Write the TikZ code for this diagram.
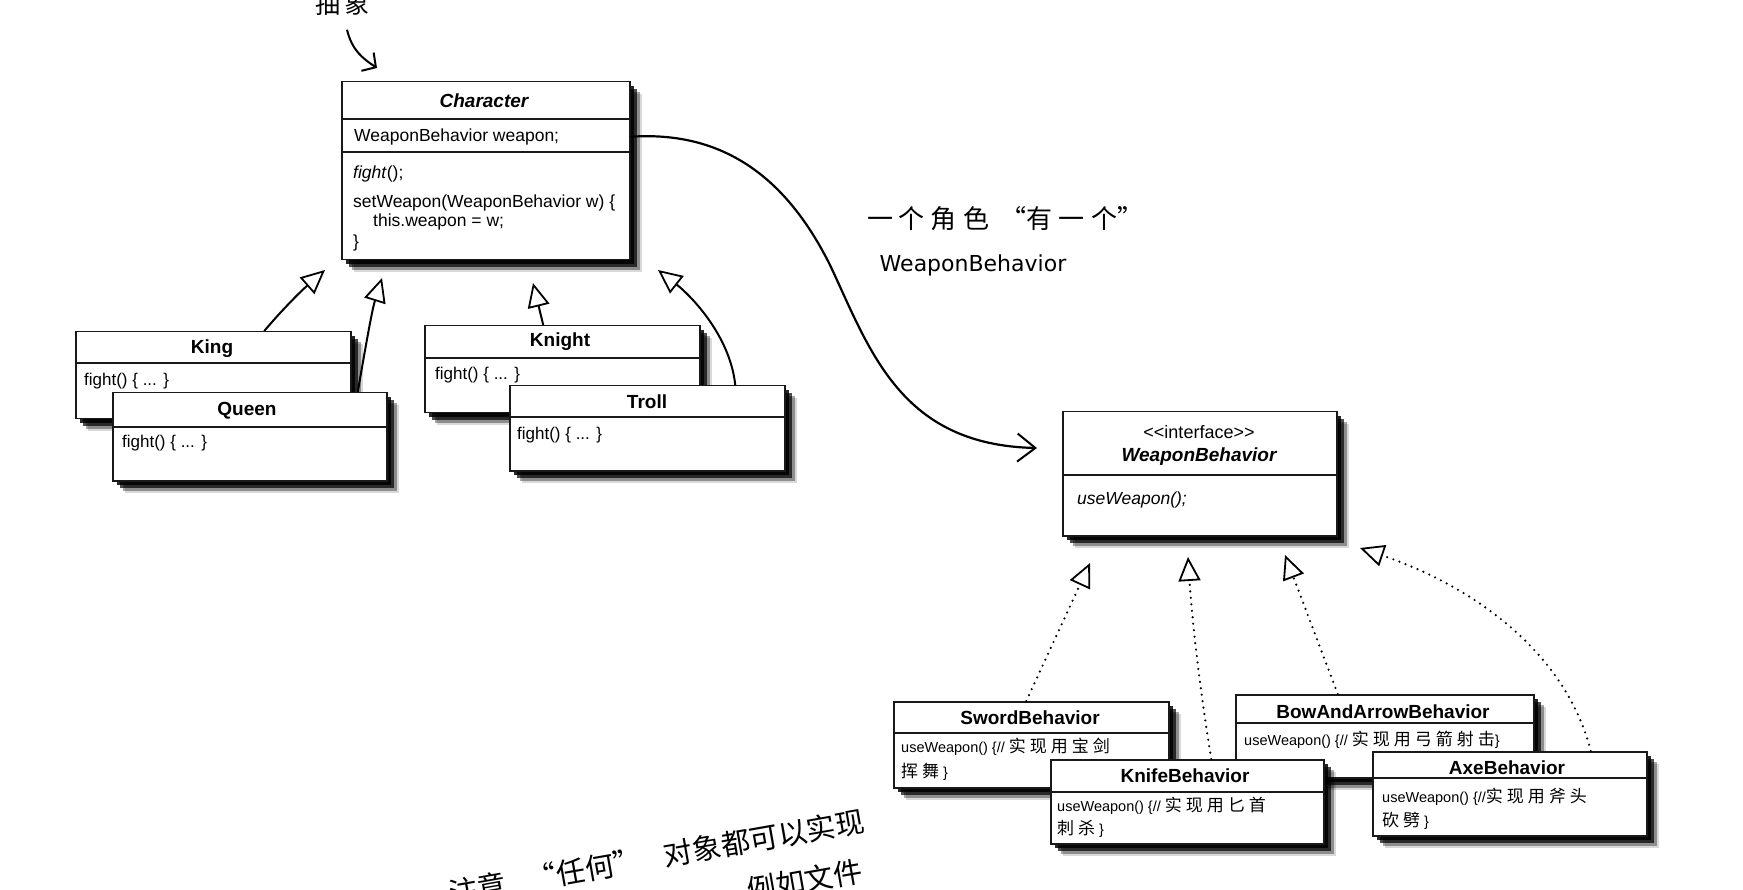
\documentclass[tikz,border=0pt]{standalone}
\usepackage{fontspec}
\setmainfont{Liberation Sans}
\newfontfamily\cjk{Noto Sans CJK SC}
\newfontfamily\handlat{DejaVu Sans}
\usetikzlibrary{arrows.meta,shadows}
\newcommand{\zg}{\hspace{4pt}}
\newcommand{\hg}{\hspace{6pt}}
\newcommand{\zh}[1]{{\cjk\fontsize{17}{20}\selectfont #1}}
\newcommand{\umlcls}[6]{%
  \node[umlbox,minimum width=#4pt,minimum height=#5pt] (#1) at (#2,#3) {};
  \draw[sepline] ([yshift=-#6pt]#1.north west) -- ([yshift=-#6pt]#1.north east);}
\tikzset{
  umlbox/.style={draw=black!90, line width=1.5pt, fill=white, anchor=north west, inner sep=0pt,
    drop shadow={shadow xshift=4pt,shadow yshift=-4pt,fill=black,opacity=.85},
    drop shadow={shadow xshift=7pt,shadow yshift=-7pt,fill=black,opacity=.7},
    drop shadow={shadow xshift=10pt,shadow yshift=-10pt,fill=black,opacity=.35},
    drop shadow={shadow xshift=12pt,shadow yshift=-12pt,fill=black,opacity=.15}},
  sepline/.style={line width=1.3pt, draw=black!90},
  ttl/.style={font=\fontsize{19}{22}\selectfont\bfseries, inner sep=0pt},
  ttli/.style={font=\fontsize{19}{22}\selectfont\bfseries\itshape, inner sep=0pt},
  body/.style={font=\fontsize{17.5}{21}\selectfont, inner sep=0pt, anchor=west},
  sbody/.style={font=\fontsize{17}{20}\selectfont, inner sep=0pt, anchor=west},
  bbody/.style={font=\fontsize{14.5}{18}\selectfont, inner sep=0pt, anchor=west},
  gen/.style={line width=2pt, -{Triangle[open,length=24pt,width=22pt,line width=1.8pt]}},
  real/.style={line width=2.4pt, line cap=round, dash pattern=on 0pt off 6.5pt,
    -{Triangle[open,length=24pt,width=22pt,line width=1.8pt]}},
  hasa/.style={line width=2.2pt, -{Straight Barb[length=18pt,width=28pt,line width=2pt]}},
  hand/.style={font=\cjk\fontsize{26}{30}\selectfont, inner sep=0pt}
}
\begin{document}
\begin{tikzpicture}[x=1pt,y=-1pt]
\useasboundingbox (0,0) rectangle (1743,890);
\fill[white] (0,0) rectangle (1743,890);
\clip (0,0) rectangle (1743,890);

% Character
\umlcls{char}{341}{81}{288}{178}{38}
\draw[sepline] ([yshift=-71pt]char.north west) -- ([yshift=-71pt]char.north east);
\node[ttli] (charT) at (484,101) {Character};
\node[body] (charA) at (354,137) {WeaponBehavior weapon;};
\node[body] (charM1) at (353,174) {\textit{fight}();};
\node[body] (charM2) at (353,203) {setWeapon(WeaponBehavior w) \{};
\node[body] (charM3) at (373,222) {this.weapon = w;};
\node[body] (charM4) at (353,243) {\}};

% King / Queen
\umlcls{king}{75}{331}{275}{87}{32}
\node[ttl] (kingT) at (212,349) {King};
\node[sbody] (kingM) at (84,381) {fight() \{ ... \}};
\umlcls{queen}{112}{392}{274}{88}{35}
\node[ttl] (queenT) at (247,411) {Queen};
\node[sbody] (queenM) at (122,443) {fight() \{ ... \}};

% Knight / Troll
\umlcls{knight}{424}{325}{275}{87}{33}
\node[ttl] (knightT) at (560,342) {Knight};
\node[sbody] (knightM) at (435,375) {fight() \{ ... \}};
\umlcls{troll}{509}{385}{275}{85}{32}
\node[ttl] (trollT) at (647,402) {Troll};
\node[sbody] (trollM) at (517,435) {fight() \{ ... \}};

% Interface
\umlcls{iface}{1062}{411}{274}{124}{64}
\node[font=\fontsize{18}{21}\selectfont, inner sep=0pt] (ifS) at (1199,432) {<{}<interface>{}>};
\node[ttli] (ifT) at (1199,457) {WeaponBehavior};
\node[body] (ifM) at (1077,500) {\textit{useWeapon();}};

% Behaviours
\umlcls{sword}{893}{701}{275}{86}{32}
\node[ttl] (swT) at (1030,718) {SwordBehavior};
\node[bbody] (swM1) at (901,747) {useWeapon() \{// \zh{实\zg 现\zg 用\zg 宝\zg 剑}};
\node[bbody] (swM2) at (901,772) {\zh{挥\zg 舞} \}};

\umlcls{bow}{1235}{694}{298}{83}{29}
\node[ttl] (bwT) at (1383,712) {BowAndArrowBehavior};
\node[bbody] (bwM1) at (1244,740) {useWeapon() \{// \zh{实\zg 现\zg 用\zg 弓\zg 箭\zg 射\zg 击}\}};

\umlcls{knife}{1050}{759}{273}{84}{33}
\node[ttl] (knT) at (1185,776) {KnifeBehavior};
\node[bbody] (knM1) at (1057,806) {useWeapon() \{// \zh{实\zg 现\zg 用\zg 匕\zg 首}};
\node[bbody] (knM2) at (1057,829) {\zh{刺\zg 杀} \}};

\umlcls{axe}{1372}{751}{274}{84}{27}
\node[ttl] (axT) at (1507,768) {AxeBehavior};
\node[bbody] (axM1) at (1382,797) {useWeapon() \{//\zh{实\zg 现\zg 用\zg 斧\zg 头}};
\node[bbody] (axM2) at (1382,821) {\zh{砍\zg 劈} \}};

% generalisation arrows
\coordinate (tipKing) at (325,270);
\coordinate (tipQueen) at (382,278);
\coordinate (tipKnight) at (533,283);
\coordinate (tipTroll) at (658,270);
\draw[gen] ([xshift=51pt]king.north) .. controls (282,310) and (300,292) .. (tipKing);
\draw[gen] ([xshift=108pt]queen.north) .. controls (365,350) and (372,310) .. (tipQueen);
\draw[gen] ([xshift=-19pt]knight.north) -- (tipKnight);
\draw[gen] ([xshift=88pt]troll.north) .. controls (730,335) and (690,295) .. (tipTroll);

% realisation arrows
\coordinate (tipSw) at (1090,563);
\coordinate (tipKn) at (1188,557);
\coordinate (tipBw) at (1285,555);
\coordinate (tipAx) at (1360,548);
\draw[real] ([xshift=-5pt]sword.north) -- (tipSw);
\draw[real] ([xshift=24pt]knife.north) .. controls (1200,690) and (1192,620) .. (tipKn);
\draw[real] ([xshift=-47pt]bow.north) -- (tipBw);
\draw[real] ([xshift=81pt]axe.north) .. controls (1565,650) and (1470,585) .. (tipAx);

% has-a
\coordinate (hasTip) at (1037,448);
\draw[hasa] ([yshift=34pt]char.east) .. controls (730,130) and (790,185) .. (830,265)
   .. controls (870,350) and (900,445) .. (hasTip);

% handwritten notes
\node[hand] (hasLbl) at (1005,219) {一\hg 个\hg 角\hg 色\hspace{12pt}“有\hg 一\hg 个”};
\node[font=\handlat\fontsize{22}{26}\selectfont, inner sep=0pt] (hasLbl2) at (973,265) {WeaponBehavior};
\node[hand, font=\cjk\fontsize{25}{28}\selectfont] (absL) at (342,4) {抽\hspace{4pt}象};
\coordinate (absTip) at (377,68);
\draw[line width=2pt, -{Straight Barb[length=10pt,width=22pt,line width=2pt]}]
   ([xshift=5pt,yshift=-14pt]absL.south) .. controls (352,50) and (362,58) .. (absTip);
\node[hand, font=\cjk\fontsize{29}{32}\selectfont, rotate=10, anchor=base east] (note1) at (866,831)
   {注意\hspace{22pt}“任何”\hspace{22pt}对象都可以实现};
\node[hand, font=\cjk\fontsize{29}{32}\selectfont, rotate=10, anchor=base east] (note2) at (864,881)
   {例如文件};
\end{tikzpicture}
\end{document}
